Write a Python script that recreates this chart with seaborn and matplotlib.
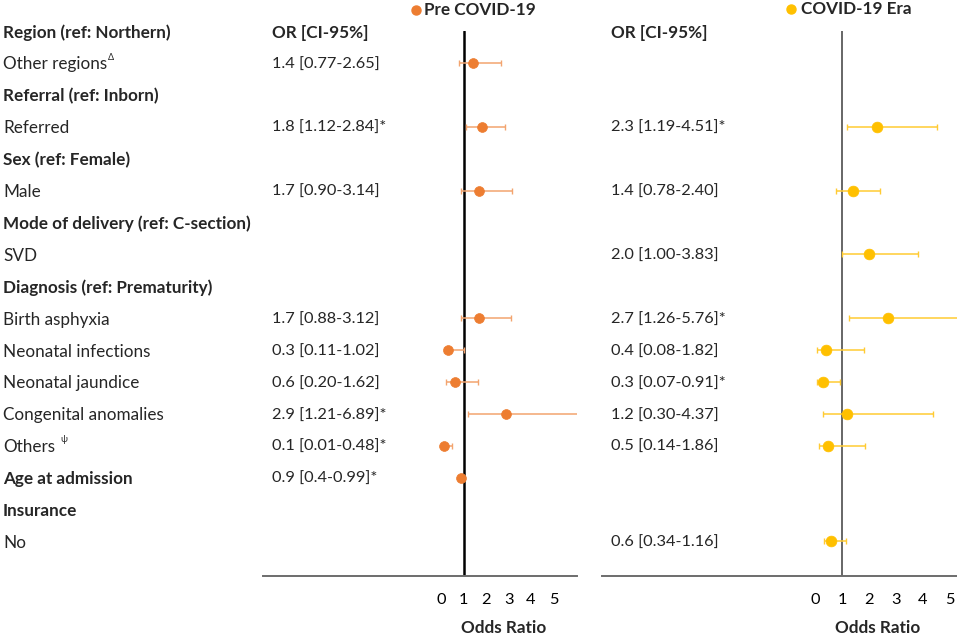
import numpy as np
import pandas as pd
import matplotlib
matplotlib.use("Agg")
import matplotlib.pyplot as plt
import matplotlib.transforms as mtransforms
import seaborn as sns

# ---------------- data ----------------
rows = ["Region (ref: Northern)", "Other regions", "Referral (ref: Inborn)", "Referred",
        "Sex (ref: Female)", "Male", "Mode of delivery (ref: C-section)", "SVD",
        "Diagnosis (ref: Prematurity)", "Birth asphyxia", "Neonatal infections",
        "Neonatal jaundice", "Congenital anomalies", "Others", "Age at admission",
        "Insurance", "No"]
bold_rows = [0, 2, 4, 6, 8, 14, 15]
row_sup = {1: "Δ", 13: "ψ"}

# Pre COVID-19
pre_or = [np.nan, 1.4, np.nan, 1.8, np.nan, 1.7, np.nan, np.nan, np.nan, 1.7, 0.3, 0.6, 2.9, 0.1, 0.9, np.nan, np.nan]
pre_lo = [np.nan, 0.77, np.nan, 1.12, np.nan, 0.90, np.nan, np.nan, np.nan, 0.88, 0.11, 0.20, 1.21, 0.01, 0.4, np.nan, np.nan]
pre_hi = [np.nan, 2.65, np.nan, 2.84, np.nan, 3.14, np.nan, np.nan, np.nan, 3.12, 1.02, 1.62, 6.89, 0.48, 0.99, np.nan, np.nan]
pre_sig = [False, False, False, True, False, False, False, False, False, False, False, False, True, True, True, False, False]
pre_show_ci = [True] * 14 + [False, True, True]

# COVID-19 Era
cov_or = [np.nan, np.nan, np.nan, 2.3, np.nan, 1.4, np.nan, 2.0, np.nan, 2.7, 0.4, 0.3, 1.2, 0.5, np.nan, np.nan, 0.6]
cov_lo = [np.nan, np.nan, np.nan, 1.19, np.nan, 0.78, np.nan, 1.00, np.nan, 1.26, 0.08, 0.07, 0.30, 0.14, np.nan, np.nan, 0.34]
cov_hi = [np.nan, np.nan, np.nan, 4.51, np.nan, 2.40, np.nan, 3.83, np.nan, 5.76, 1.82, 0.91, 4.37, 1.86, np.nan, np.nan, 1.16]
cov_sig = [False, False, False, True, False, False, False, False, False, True, False, True, False, False, False, False, False]

ticks = [0, 1, 2, 3, 4, 5]
series_names = ["Pre COVID-19", "COVID-19 Era"]

# ---------------- style ----------------
sns.set_theme(style="white")
plt.rcParams['font.family'] = ['Lato', 'DejaVu Sans']
FS = 12.3      # row labels / titles
FSN = 11.8     # numbers
ORANGE = "#ED7D31"
ORANGE_L = "#F3A46F"
GOLD = "#FFC000"
GOLD_L = "#FFCB33"

W, H = 957, 642
fig = plt.figure(figsize=(W / 100, H / 100), dpi=100)

def fx(px):
    return px / W

def fy(py):
    return 1 - py / H

top_px, bot_px = 31, 576
row_h = 31.9
ybot = (bot_px - top_px) / row_h

ax1 = fig.add_axes([fx(263), fy(bot_px), fx(577 - 263), fy(top_px) - fy(bot_px)])
ax2 = fig.add_axes([fx(602), fy(bot_px), fx(957 - 602), fy(top_px) - fy(bot_px)])

ypos = np.arange(len(rows))
YOFF = 0.05  # small baseline nudge for text

def fmt_or(o, l, h, s):
    if np.isnan(o):
        return None
    def f(v):
        return f"{v:.2f}" if v != 0.4 else "0.4"
    txt = f"{o:.1f} [{f(l)}-{f(h)}]"
    if s:
        txt += "*"
    return txt

panels = [
    (ax1, pre_or, pre_lo, pre_hi, pre_sig, pre_show_ci, ORANGE, ORANGE_L, (-7.95, 6.05), 1.8, "black", 50, 263),
    (ax2, cov_or, cov_lo, cov_hi, cov_sig, [True] * len(rows), GOLD, GOLD_L, (-7.89, 5.26), 1.3, "#5a5a5a", 60, 602),
]

for ax, o, lo, hi, sig, show, col, coll, xl, vlw, vcol, msize, left_px in panels:
    df = pd.DataFrame({"y": ypos, "or": o, "lo": lo, "hi": hi, "show": show}).dropna(subset=["or"])
    ax.axvline(1, color=vcol, lw=vlw, zorder=1)
    dci = df[df["show"]]
    ax.errorbar(dci["or"], dci["y"], xerr=[dci["or"] - dci["lo"], dci["hi"] - dci["or"]],
                fmt="none", ecolor=coll, elinewidth=1.1, capsize=2.2, capthick=1.0, zorder=2)
    sns.scatterplot(data=df, x="or", y="y", ax=ax, color=col, s=msize, edgecolor=col,
                    linewidth=0.5, zorder=3, legend=False)
    ax.set_xlim(*xl)
    ax.set_ylim(ybot, 0)
    ax.set_xticks(ticks)
    ax.set_xticklabels([str(t) for t in ticks], fontsize=FSN)
    ax.set_yticks([])
    ax.set_xlabel("")
    ax.set_ylabel("")
    ax.tick_params(axis="x", length=0, pad=12, colors="black")
    for sp in ["top", "right", "left"]:
        ax.spines[sp].set_visible(False)
    ax.spines["bottom"].set_color("#6d6d6d")
    ax.spines["bottom"].set_linewidth(1.4)
    ax.patch.set_alpha(0)
    # OR text column
    tr = mtransforms.blended_transform_factory(fig.transFigure, ax.transData)
    xt = fx(left_px + 9)
    ax.text(xt, 0 + YOFF, "OR [CI-95%]", transform=tr, fontsize=FS, fontweight="bold",
            va="center", ha="left", clip_on=False)
    for i in range(len(rows)):
        t = fmt_or(o[i], lo[i], hi[i], sig[i])
        if t:
            ax.text(xt, i + YOFF, t, transform=tr, fontsize=FSN, va="center", ha="left", clip_on=False)

# Row labels
trl = mtransforms.blended_transform_factory(fig.transFigure, ax1.transData)
for i, r in enumerate(rows):
    fw = "bold" if i in bold_rows else "normal"
    t = ax1.text(fx(3), i + YOFF, r, transform=trl, fontsize=FS, fontweight=fw,
                 va="center", ha="left", clip_on=False)
    if i in row_sup:
        fig.canvas.draw()
        bb = t.get_window_extent()
        x_end = bb.x1 / W
        off = 1 if i == 1 else 5
        ax1.text(x_end + fx(off), i - 0.18, row_sup[i], transform=trl, fontsize=6.5,
                 va="center", ha="left", clip_on=False)

# Legend-like titles
for (mx, my, tx), name, col in zip([(416, 10, 424), (791, 9, 801)], series_names, [ORANGE, GOLD]):
    fig.add_artist(plt.Line2D([fx(mx)], [fy(my)], marker="o", color=col, markersize=6.5,
                              transform=fig.transFigure, linestyle="none"))
    fig.text(fx(tx), fy(my), name, fontsize=FS, fontweight="bold", va="center", ha="left")

# Axis titles
fig.text(fx(504), fy(628), "Odds Ratio", fontsize=FS, fontweight="bold", ha="center", va="center")
fig.text(fx(878), fy(628), "Odds Ratio", fontsize=FS, fontweight="bold", ha="center", va="center")

fig.savefig("out.png", dpi=100, facecolor="white")
